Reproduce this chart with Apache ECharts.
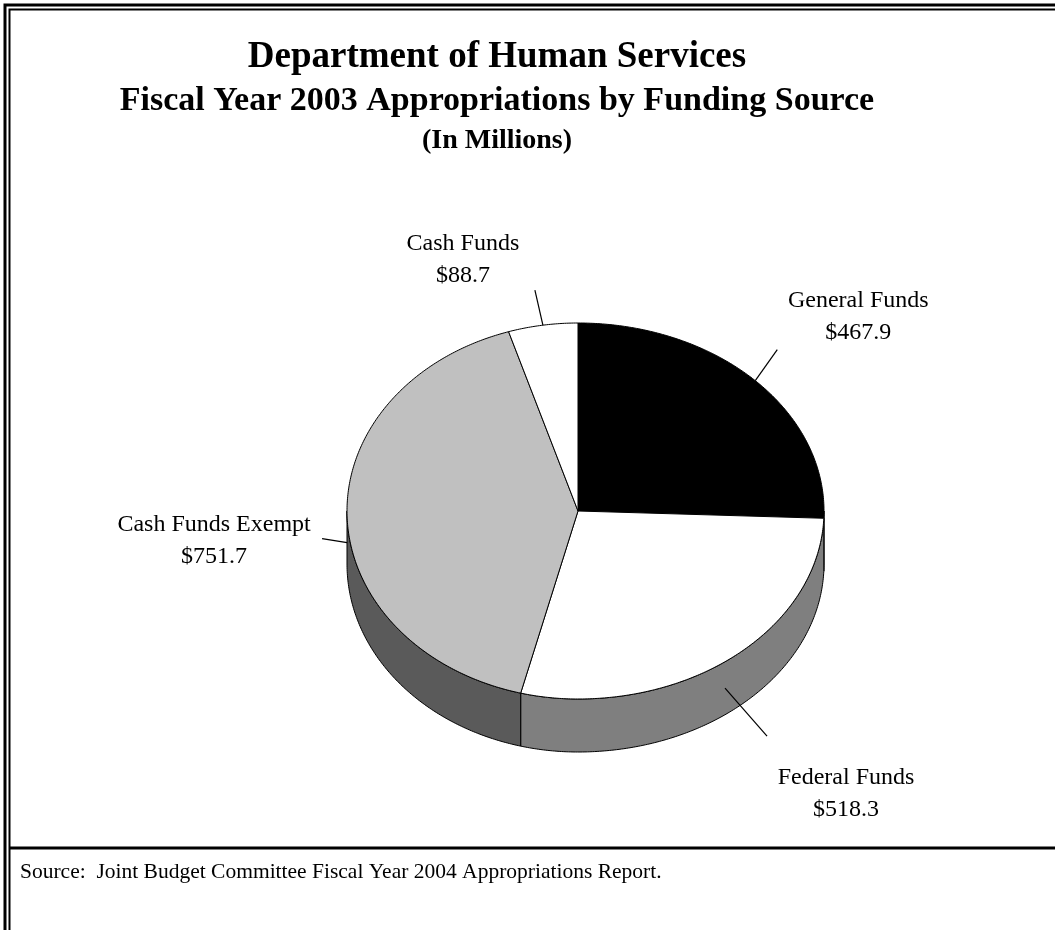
<!DOCTYPE html>
<html>
<head>
<meta charset="utf-8">
<title>Department of Human Services - FY 2003 Appropriations</title>
<script src="https://cdn.jsdelivr.net/npm/echarts@6/dist/echarts.min.js"></script>
<style>
  html, body { margin: 0; padding: 0; background: #fff; }
  #chart { width: 1055px; height: 930px; }
</style>
</head>
<body>
<div id="chart"></div>
<script>
// Funding sources, clockwise from 12 o'clock
const categories = ['General Funds', 'Federal Funds', 'Cash Funds Exempt', 'Cash Funds']
const values = [467.9, 518.3, 751.7, 88.7]
const valueLabels = ['$467.9', '$518.3', '$751.7', '$88.7']

// styling
const topColors = ['#000000', '#ffffff', '#c0c0c0', '#ffffff']
const sideColors = ['#2a2a2a', '#7f7f7f', '#5a5a5a', '#d8d8d8']
// leader line vector (from slice edge) and label offset (from leader end)
const leaderVec = [[22, -31], [42, 48], [-25, -4], [-8, -35]]
const labelVec = [[81, -33], [79, 57], [-108, 2], [-72, -30]]

const SERIF = '"Liberation Serif", "Times New Roman", serif'

// pie geometry (slightly lopsided ellipse, like the Excel perspective view)
const pie = { cx: 578, cy: 511, rxL: 231, rxR: 246, ry: 188, depth: 53 }

const total = values.reduce((a, b) => a + b, 0)
const cum = [0]
values.forEach((v, i) => cum.push(cum[i] + v))

// theta: radians clockwise from 12 o'clock
function ellipsePt(theta, dy) {
  const s = Math.sin(theta)
  const c = Math.cos(theta)
  const rx = s < 0 ? pie.rxL : pie.rxR
  return [pie.cx + rx * s, pie.cy - pie.ry * c + (dy || 0)]
}

function arc(a, b, dy) {
  const n = Math.max(2, Math.ceil(Math.abs(b - a) / 0.01))
  const pts = []
  for (let k = 0; k <= n; k++) pts.push(ellipsePt(a + (b - a) * k / n, dy))
  return pts
}

function renderSlice(params, api) {
  const i = params.dataIndex
  const start = cum[i] / total * Math.PI * 2
  const end = cum[i + 1] / total * Math.PI * 2
  const children = []

  // side wall, only the front half (90..270 deg) is visible
  const a = Math.max(start, Math.PI / 2)
  const b = Math.min(end, Math.PI * 1.5)
  if (b > a) {
    const pts = arc(a, b, 0).concat(arc(b, a, pie.depth))
    children.push({
      type: 'polygon',
      shape: { points: pts },
      style: { fill: sideColors[i], stroke: '#000', lineWidth: 1 },
    })
  }

  // top face
  const topPts = [[pie.cx, pie.cy]].concat(arc(start, end, 0))
  children.push({
    type: 'polygon',
    shape: { points: topPts },
    style: { fill: topColors[i], stroke: '#000', lineWidth: 1 },
  })

  // leader line + label
  const mid = (start + end) / 2
  const front = mid > Math.PI / 2 && mid < Math.PI * 1.5
  const p0 = ellipsePt(mid, front ? pie.depth / 2 : 0)
  const p1 = [p0[0] + leaderVec[i][0], p0[1] + leaderVec[i][1]]
  children.push({
    type: 'line',
    shape: { x1: p0[0], y1: p0[1], x2: p1[0], y2: p1[1] },
    style: { stroke: '#000', lineWidth: 1.2 },
  })
  children.push({
    type: 'text',
    style: {
      text: categories[i] + '\n' + valueLabels[i],
      x: p1[0] + labelVec[i][0],
      y: p1[1] + labelVec[i][1],
      fill: '#000',
      font: '24px ' + SERIF,
      lineHeight: 32,
      align: 'center',
      textAlign: 'center',
      verticalAlign: 'middle',
      textVerticalAlign: 'middle',
    },
  })

  return { type: 'group', children }
}

function titleText(text, y, size) {
  return {
    type: 'text',
    x: 497,
    y: y,
    style: {
      text,
      fill: '#000',
      font: 'bold ' + size + 'px ' + SERIF,
      align: 'center',
      textAlign: 'center',
      verticalAlign: 'middle',
      textVerticalAlign: 'middle',
    },
  }
}

const chart = echarts.init(document.getElementById('chart'), null, { renderer: 'canvas' })

chart.setOption({
  backgroundColor: '#ffffff',
  animation: false,
  graphic: [
    // double frame
    { type: 'rect', shape: { x: 5, y: 5, width: 1100, height: 1000 },
      style: { fill: 'none', stroke: '#000', lineWidth: 3 } },
    { type: 'rect', shape: { x: 9.5, y: 9.5, width: 1100, height: 1000 },
      style: { fill: 'none', stroke: '#000', lineWidth: 2 } },
    // separator above the source note
    { type: 'line', shape: { x1: 10, y1: 848, x2: 1060, y2: 848 },
      style: { stroke: '#000', lineWidth: 3 } },
    titleText('Department of Human Services', 57, 37),
    titleText('Fiscal Year 2003 Appropriations by Funding Source', 101, 34),
    titleText('(In Millions)', 141, 28),
    {
      type: 'text',
      x: 20,
      y: 872,
      style: {
        text: 'Source:  Joint Budget Committee Fiscal Year 2004 Appropriations Report.',
        fill: '#000',
        font: '21.5px ' + SERIF,
        align: 'left',
        textAlign: 'left',
        verticalAlign: 'middle',
        textVerticalAlign: 'middle',
      },
    },
  ],
  series: [{
    type: 'custom',
    coordinateSystem: 'none',
    data: values.map((v, i) => ({ name: categories[i], value: v })),
    renderItem: renderSlice,
  }],
})
</script>
</body>
</html>
